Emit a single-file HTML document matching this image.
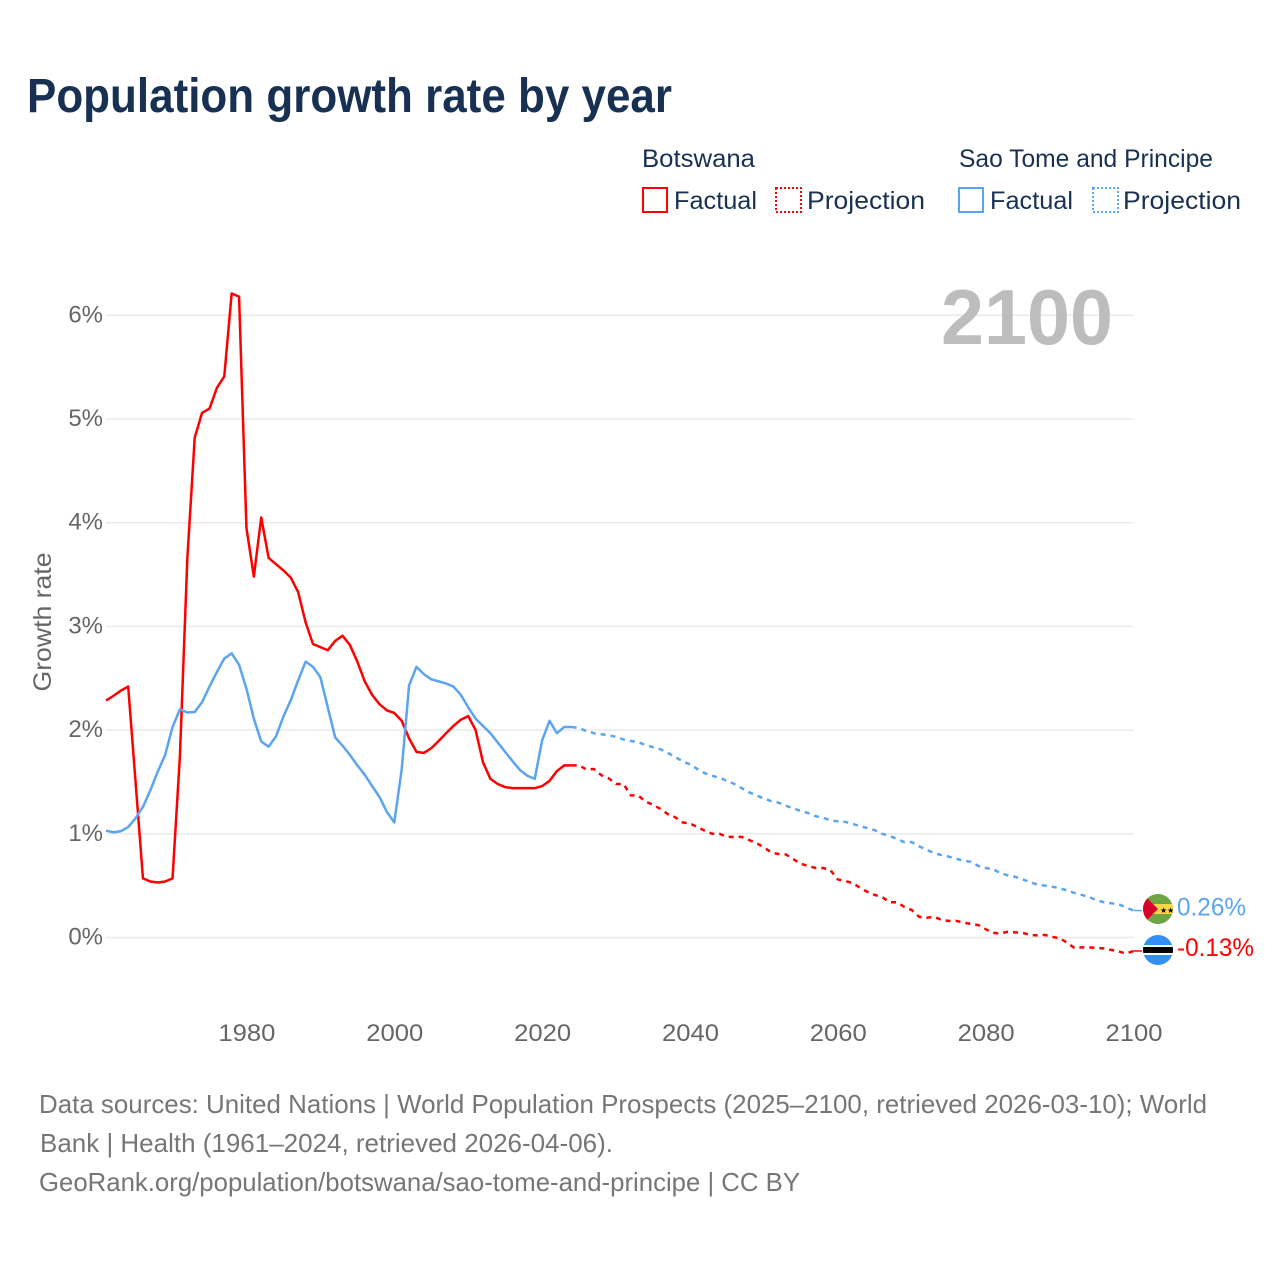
<!DOCTYPE html>
<html lang="en">
<head>
<meta charset="utf-8">
<title>Population growth rate by year</title>
<style>
html,body{margin:0;padding:0;background:#fff;}
svg{display:block;font-family:"Liberation Sans",sans-serif;}
</style>
</head>
<body>
<svg id="chart" xmlns="http://www.w3.org/2000/svg" width="1280" height="1280" viewBox="0 0 1280 1280">
  <rect x="0" y="0" width="1280" height="1280" fill="#fff"/>
  <text x="27" y="112" font-size="48" font-weight="700" fill="#183153" textLength="645" lengthAdjust="spacingAndGlyphs">Population growth rate by year</text>

  <g font-size="25" fill="#183153">
    <text x="642" y="167" textLength="113" lengthAdjust="spacingAndGlyphs">Botswana</text>
    <rect x="643" y="188" width="24" height="24" fill="#fff" stroke="#ff0000" stroke-width="2"/>
    <text x="674" y="209" textLength="83" lengthAdjust="spacingAndGlyphs">Factual</text>
    <rect x="776" y="188" width="25" height="24" fill="#fff" stroke="#ff0000" stroke-width="2" stroke-dasharray="2 2"/>
    <text x="807" y="209" textLength="118" lengthAdjust="spacingAndGlyphs">Projection</text>
    <text x="959" y="167" textLength="254" lengthAdjust="spacingAndGlyphs">Sao Tome and Principe</text>
    <rect x="959" y="188" width="24" height="24" fill="#fff" stroke="#5ba4ef" stroke-width="2"/>
    <text x="990" y="209" textLength="83" lengthAdjust="spacingAndGlyphs">Factual</text>
    <rect x="1093" y="188" width="25" height="24" fill="#fff" stroke="#5ba4ef" stroke-width="2" stroke-dasharray="2 2"/>
    <text x="1123" y="209" textLength="118" lengthAdjust="spacingAndGlyphs">Projection</text>
  </g>

  <text transform="translate(51,622) rotate(-90)" text-anchor="middle" font-size="25" fill="#666" textLength="139" lengthAdjust="spacingAndGlyphs">Growth rate</text>

  <g id="grid"></g>
  <g id="y-ticks"></g>
  <g id="x-ticks"></g>

  <text x="1113" y="344" text-anchor="end" font-size="78" font-weight="700" fill="#bdbdbd" textLength="172" lengthAdjust="spacingAndGlyphs">2100</text>

  <g id="series"></g>

  <defs>
    <clipPath id="clip-st"><circle cx="1158" cy="909" r="15"/></clipPath>
    <clipPath id="clip-bw"><circle cx="1158" cy="950" r="15"/></clipPath>
  </defs>

  <g clip-path="url(#clip-st)">
    <rect x="1143" y="894" width="30" height="30" fill="#6fa544"/>
    <rect x="1143" y="904" width="30" height="10" fill="#f9d64a"/>
    <polygon points="1143,894 1158,909 1143,924" fill="#d8002a"/>
    <text x="1160" y="913" font-size="8" fill="#000" font-family="'DejaVu Sans',sans-serif">★★</text>
  </g>
  <g clip-path="url(#clip-bw)">
    <rect x="1143" y="935" width="30" height="30" fill="#338ef5"/>
    <rect x="1143" y="945" width="30" height="10" fill="#fff"/>
    <rect x="1143" y="947" width="30" height="6" fill="#000"/>
  </g>

  <g font-size="26" fill="#767676">
    <text x="39" y="1113" textLength="1168" lengthAdjust="spacingAndGlyphs">Data sources: United Nations | World Population Prospects (2025–2100, retrieved 2026-03-10); World</text>
    <text x="40" y="1152" textLength="573" lengthAdjust="spacingAndGlyphs">Bank | Health (1961–2024, retrieved 2026-04-06).</text>
    <text x="39" y="1191" textLength="761" lengthAdjust="spacingAndGlyphs">GeoRank.org/population/botswana/sao-tome-and-principe | CC BY</text>
  </g>
</svg>

<script>
const xTickYears = [1980, 2000, 2020, 2040, 2060, 2080, 2100];
const yTickValues = [0, 1, 2, 3, 4, 5, 6];
const factualYears = [1961,1962,1963,1964,1965,1966,1967,1968,1969,1970,1971,1972,1973,1974,1975,1976,1977,1978,1979,1980,1981,1982,1983,1984,1985,1986,1987,1988,1989,1990,1991,1992,1993,1994,1995,1996,1997,1998,1999,2000,2001,2002,2003,2004,2005,2006,2007,2008,2009,2010,2011,2012,2013,2014,2015,2016,2017,2018,2019,2020,2021,2022,2023,2024];
const projectionYears = [2024,2025,2026,2027,2028,2029,2030,2031,2032,2033,2034,2035,2036,2037,2038,2039,2040,2041,2042,2043,2044,2045,2046,2047,2048,2049,2050,2051,2052,2053,2054,2055,2056,2057,2058,2059,2060,2061,2062,2063,2064,2065,2066,2067,2068,2069,2070,2071,2072,2073,2074,2075,2076,2077,2078,2079,2080,2081,2082,2083,2084,2085,2086,2087,2088,2089,2090,2091,2092,2093,2094,2095,2096,2097,2098,2099,2100];
const botswanaFactual = [2.285,2.33,2.38,2.42,1.5,0.57,0.54,0.53,0.54,0.57,1.75,3.65,4.82,5.06,5.10,5.30,5.41,6.21,6.18,3.95,3.48,4.05,3.66,3.60,3.54,3.47,3.33,3.04,2.83,2.80,2.77,2.86,2.91,2.82,2.66,2.47,2.34,2.25,2.19,2.165,2.09,1.92,1.79,1.78,1.825,1.895,1.97,2.04,2.10,2.135,2.0,1.69,1.53,1.48,1.45,1.44,1.44,1.44,1.44,1.46,1.51,1.605,1.66,1.66];
const botswanaProjection = [1.66,1.66,1.62,1.625,1.565,1.535,1.48,1.48,1.37,1.37,1.31,1.28,1.24,1.19,1.16,1.11,1.10,1.065,1.03,1.00,1.00,0.97,0.97,0.97,0.94,0.91,0.87,0.82,0.805,0.80,0.755,0.71,0.69,0.67,0.67,0.65,0.56,0.545,0.525,0.48,0.44,0.41,0.39,0.34,0.34,0.295,0.265,0.20,0.19,0.20,0.17,0.16,0.16,0.145,0.13,0.12,0.08,0.045,0.04,0.055,0.05,0.045,0.025,0.02,0.025,0.005,-0.005,-0.05,-0.10,-0.095,-0.095,-0.10,-0.105,-0.12,-0.135,-0.155,-0.13];
const saoTomeFactual = [1.03,1.015,1.025,1.065,1.15,1.26,1.42,1.60,1.76,2.03,2.20,2.17,2.175,2.27,2.42,2.56,2.69,2.74,2.63,2.40,2.11,1.89,1.84,1.94,2.13,2.29,2.48,2.66,2.61,2.51,2.22,1.93,1.85,1.76,1.66,1.57,1.46,1.355,1.21,1.11,1.62,2.43,2.61,2.54,2.49,2.47,2.45,2.42,2.34,2.22,2.11,2.04,1.97,1.88,1.79,1.70,1.615,1.56,1.53,1.90,2.09,1.97,2.03,2.03];
const saoTomeProjection = [2.03,2.02,1.99,1.97,1.96,1.95,1.935,1.91,1.895,1.885,1.855,1.835,1.815,1.78,1.74,1.70,1.67,1.625,1.585,1.56,1.54,1.51,1.48,1.44,1.40,1.37,1.34,1.315,1.30,1.27,1.245,1.22,1.20,1.17,1.155,1.13,1.12,1.115,1.095,1.075,1.055,1.035,1.0,0.98,0.95,0.92,0.92,0.88,0.845,0.815,0.795,0.78,0.76,0.74,0.73,0.69,0.67,0.66,0.62,0.60,0.585,0.56,0.535,0.51,0.50,0.49,0.475,0.455,0.43,0.41,0.39,0.36,0.34,0.33,0.32,0.29,0.26];

const NS = 'http://www.w3.org/2000/svg';
function xScale(year) { return 106 + (year - 1961) * (1133.5 - 106) / (2100 - 1961); }
function yScale(value) { return 937.5 - value * 103.7; }
function make(tag, attrs, parent) {
  const el = document.createElementNS(NS, tag);
  for (const k in attrs) el.setAttribute(k, attrs[k]);
  parent.appendChild(el);
  return el;
}
function linePoints(years, values) {
  return years.map((y, i) => xScale(y).toFixed(2) + ',' + yScale(values[i]).toFixed(2)).join(' ');
}

const grid = document.getElementById('grid');
const yTicks = document.getElementById('y-ticks');
yTickValues.forEach(function (v) {
  const line = make('line', {x1: xScale(1961), x2: xScale(2100), y1: yScale(v), y2: yScale(v), stroke: '#eaeaea', 'stroke-width': 1.5}, grid);
  
  
  const label = make('text', {x: 103, y: yScale(v) + 7, 'text-anchor': 'end', 'font-size': 24, fill: '#666'}, yTicks);
  
  
  label.textContent = v + '%';
});

const xTicks = document.getElementById('x-ticks');
xTickYears.forEach(function (year) {
  const label = make('text', {x: xScale(year) + 0.5, y: 1041, 'text-anchor': 'middle', 'font-size': 24, fill: '#666', textLength: 57, lengthAdjust: 'spacingAndGlyphs'}, xTicks);
  
  
  label.textContent = year;
});

const seriesGroup = document.getElementById('series');

const bwFactualLine = make('polyline', {points: linePoints(factualYears, botswanaFactual), fill: 'none', stroke: '#ff0000', 'stroke-width': 2.5, 'stroke-linejoin': 'round'}, seriesGroup);



const stFactualLine = make('polyline', {points: linePoints(factualYears, saoTomeFactual), fill: 'none', stroke: '#5ba4ef', 'stroke-width': 2.5, 'stroke-linejoin': 'round'}, seriesGroup);



const bwProjectionLine = make('polyline', {points: linePoints(projectionYears, botswanaProjection), fill: 'none', stroke: '#ff0000', 'stroke-width': 2.5, 'stroke-dasharray': '5 5'}, seriesGroup);



const stProjectionLine = make('polyline', {points: linePoints(projectionYears, saoTomeProjection), fill: 'none', stroke: '#5ba4ef', 'stroke-width': 2.5, 'stroke-dasharray': '5 5'}, seriesGroup);



const lastBw = botswanaProjection[botswanaProjection.length - 1];
const lastSt = saoTomeProjection[saoTomeProjection.length - 1];

const bwConnector = make('line', {x1: xScale(2100), x2: 1142, y1: yScale(lastBw), y2: yScale(lastBw), stroke: '#ff0000', 'stroke-width': 1.5}, seriesGroup);



const stConnector = make('line', {x1: xScale(2100), x2: 1142, y1: yScale(lastSt), y2: yScale(lastSt), stroke: '#5ba4ef', 'stroke-width': 1.5}, seriesGroup);



const bwEndLabel = make('text', {x: 1177, y: yScale(lastBw) + 5, 'font-size': 25, fill: '#ff0000', textLength: 77, lengthAdjust: 'spacingAndGlyphs'}, seriesGroup);


bwEndLabel.textContent = lastBw.toFixed(2) + '%';

const stEndLabel = make('text', {x: 1177, y: yScale(lastSt) + 5, 'font-size': 25, fill: '#5ba4ef', textLength: 69, lengthAdjust: 'spacingAndGlyphs'}, seriesGroup);


stEndLabel.textContent = lastSt.toFixed(2) + '%';
</script>
</body>
</html>
